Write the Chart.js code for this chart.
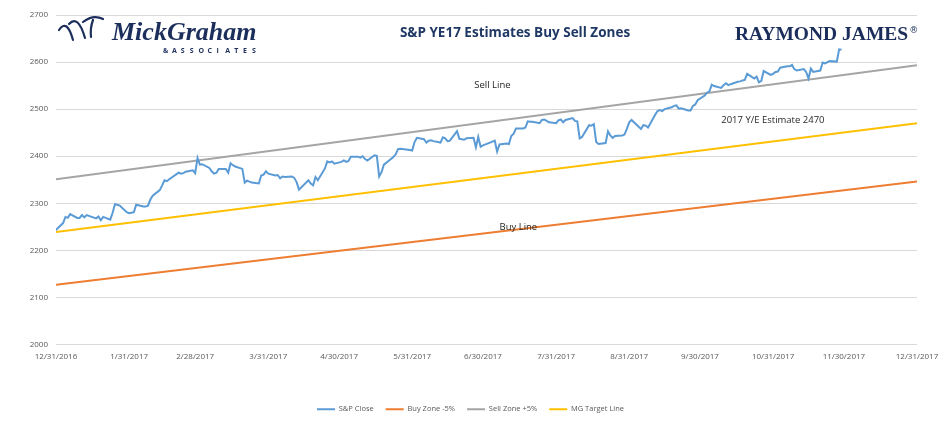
<!DOCTYPE html>
<html>
<head>
<meta charset="utf-8">
<script src="https://cdn.jsdelivr.net/npm/chart.js@4.4.0/dist/chart.umd.min.js"></script>
<style>
  html, body { margin: 0; padding: 0; background: #fff; }
</style>
</head>
<body>
<canvas id="chart" width="941" height="423"></canvas>
<script>
// x axis tick labels (month ends)
const tickLabels = ['12/31/2016', '1/31/2017', '2/28/2017', '3/31/2017', '4/30/2017', '5/31/2017',
  '6/30/2017', '7/31/2017', '8/31/2017', '9/30/2017', '10/31/2017', '11/30/2017', '12/31/2017'];

// zone lines: value at start and end of the year
const zoneDates = ['12/31/2016', '12/31/2017'];
const targetLine = [2239, 2470];
const sellZone = [2351, 2593.5];
const buyZone = [2127, 2346.5];

// S&P close
const spDates = [
  '12/30/2016', '1/3/2017', '1/4/2017', '1/5/2017', '1/6/2017', '1/9/2017', '1/10/2017', '1/11/2017', '1/12/2017', '1/13/2017',
  '1/17/2017', '1/18/2017', '1/19/2017', '1/20/2017', '1/23/2017', '1/24/2017', '1/25/2017', '1/26/2017', '1/27/2017', '1/30/2017',
  '1/31/2017', '2/1/2017', '2/2/2017', '2/3/2017', '2/6/2017', '2/7/2017', '2/8/2017', '2/9/2017', '2/10/2017', '2/13/2017',
  '2/14/2017', '2/15/2017', '2/16/2017', '2/17/2017', '2/21/2017', '2/22/2017', '2/23/2017', '2/24/2017', '2/27/2017', '2/28/2017',
  '3/1/2017', '3/2/2017', '3/3/2017', '3/6/2017', '3/7/2017', '3/8/2017', '3/9/2017', '3/10/2017', '3/13/2017', '3/14/2017',
  '3/15/2017', '3/16/2017', '3/17/2017', '3/20/2017', '3/21/2017', '3/22/2017', '3/23/2017', '3/24/2017', '3/27/2017', '3/28/2017',
  '3/29/2017', '3/30/2017', '3/31/2017', '4/3/2017', '4/4/2017', '4/5/2017', '4/6/2017', '4/7/2017', '4/10/2017', '4/11/2017',
  '4/12/2017', '4/13/2017', '4/17/2017', '4/18/2017', '4/19/2017', '4/20/2017', '4/21/2017', '4/24/2017', '4/25/2017', '4/26/2017',
  '4/27/2017', '4/28/2017', '5/1/2017', '5/2/2017', '5/3/2017', '5/4/2017', '5/5/2017', '5/8/2017', '5/9/2017', '5/10/2017',
  '5/11/2017', '5/12/2017', '5/15/2017', '5/16/2017', '5/17/2017', '5/18/2017', '5/19/2017', '5/22/2017', '5/23/2017', '5/24/2017',
  '5/25/2017', '5/26/2017', '5/30/2017', '5/31/2017', '6/1/2017', '6/2/2017', '6/5/2017', '6/6/2017', '6/7/2017', '6/8/2017',
  '6/9/2017', '6/12/2017', '6/13/2017', '6/14/2017', '6/15/2017', '6/16/2017', '6/19/2017', '6/20/2017', '6/21/2017', '6/22/2017',
  '6/23/2017', '6/26/2017', '6/27/2017', '6/28/2017', '6/29/2017', '6/30/2017', '7/3/2017', '7/5/2017', '7/6/2017', '7/7/2017',
  '7/10/2017', '7/11/2017', '7/12/2017', '7/13/2017', '7/14/2017', '7/17/2017', '7/18/2017', '7/19/2017', '7/20/2017', '7/21/2017',
  '7/24/2017', '7/25/2017', '7/26/2017', '7/27/2017', '7/28/2017', '7/31/2017', '8/1/2017', '8/2/2017', '8/3/2017', '8/4/2017',
  '8/7/2017', '8/8/2017', '8/9/2017', '8/10/2017', '8/11/2017', '8/14/2017', '8/15/2017', '8/16/2017', '8/17/2017', '8/18/2017',
  '8/21/2017', '8/22/2017', '8/23/2017', '8/24/2017', '8/25/2017', '8/28/2017', '8/29/2017', '8/30/2017', '8/31/2017', '9/1/2017',
  '9/5/2017', '9/6/2017', '9/7/2017', '9/8/2017', '9/11/2017', '9/12/2017', '9/13/2017', '9/14/2017', '9/15/2017', '9/18/2017',
  '9/19/2017', '9/20/2017', '9/21/2017', '9/22/2017', '9/25/2017', '9/26/2017', '9/27/2017', '9/28/2017', '9/29/2017', '10/2/2017',
  '10/3/2017', '10/4/2017', '10/5/2017', '10/6/2017', '10/9/2017', '10/10/2017', '10/11/2017', '10/12/2017', '10/13/2017', '10/16/2017',
  '10/17/2017', '10/18/2017', '10/19/2017', '10/20/2017', '10/23/2017', '10/24/2017', '10/25/2017', '10/26/2017', '10/27/2017', '10/30/2017',
  '10/31/2017', '11/1/2017', '11/2/2017', '11/3/2017', '11/6/2017', '11/7/2017', '11/8/2017', '11/9/2017', '11/10/2017', '11/13/2017',
  '11/14/2017', '11/15/2017', '11/16/2017', '11/17/2017', '11/20/2017', '11/21/2017', '11/22/2017', '11/24/2017', '11/27/2017', '11/28/2017',
  '11/29/2017'
];
const spClose = [
  2239, 2258, 2271, 2269, 2277, 2269, 2269, 2275, 2270, 2275,
  2268, 2272, 2264, 2271, 2265, 2280, 2298, 2297, 2295, 2281,
  2279, 2280, 2281, 2297, 2293, 2293, 2295, 2308, 2316, 2328,
  2338, 2349, 2347, 2351, 2365, 2363, 2364, 2367, 2370, 2364,
  2396, 2382, 2383, 2375, 2368, 2363, 2365, 2373, 2373, 2365,
  2385, 2381, 2378, 2373, 2344, 2348, 2346, 2344, 2342, 2359,
  2361, 2368, 2363, 2359, 2360, 2353, 2357, 2356, 2357, 2354,
  2345, 2329, 2349, 2342, 2338, 2356, 2349, 2374, 2389, 2387,
  2389, 2384, 2388, 2391, 2388, 2390, 2399, 2399, 2397, 2400,
  2394, 2391, 2402, 2401, 2357, 2366, 2382, 2394, 2398, 2404,
  2415, 2416, 2413, 2412, 2430, 2439, 2436, 2429, 2433, 2434,
  2432, 2429, 2440, 2438, 2432, 2433, 2453, 2437, 2436, 2435,
  2438, 2439, 2419, 2441, 2420, 2423, 2429, 2433, 2410, 2425,
  2427, 2426, 2443, 2448, 2459, 2459, 2461, 2474, 2473, 2473,
  2470, 2477, 2478, 2475, 2472, 2470, 2476, 2478, 2472, 2477,
  2481, 2475, 2474, 2438, 2441, 2466, 2465, 2468, 2430, 2426,
  2428, 2453, 2444, 2439, 2443, 2444, 2446, 2458, 2472, 2477,
  2458, 2466, 2465, 2461, 2488, 2496, 2498, 2496, 2500, 2504,
  2507, 2508, 2501, 2502, 2497, 2497, 2507, 2510, 2519, 2529,
  2535, 2538, 2552, 2549, 2545, 2551, 2555, 2551, 2553, 2558,
  2559, 2561, 2562, 2575, 2565, 2569, 2557, 2560, 2581, 2573,
  2575, 2579, 2580, 2588, 2591, 2591, 2594, 2585, 2582, 2585,
  2579, 2565, 2586, 2579, 2582, 2599, 2597, 2602, 2601, 2627,
  2626
];

const base = Date.UTC(2016, 11, 31);
function dayOf(s) {
  const [m, d, y] = s.split('/').map(Number);
  return (Date.UTC(y, m - 1, d) - base) / 86400000;
}
const tickDays = tickLabels.map(dayOf);
const zoneDays = zoneDates.map(dayOf);
const pts = (days, vals) => vals.map((v, i) => ({ x: days[i], y: v }));

const navy = '#1f3864';
const font = "'Open Sans', sans-serif";

const overlay = {
  id: 'overlay',
  afterDatasetsDraw(chart) {
    const ctx = chart.ctx;
    const x = chart.scales.x, y = chart.scales.y;
    ctx.save();

    // title
    ctx.fillStyle = navy;
    ctx.font = "bold 13.5px " + font;
    ctx.textAlign = 'center';
    ctx.textBaseline = 'alphabetic';
    ctx.fillText('S&P YE17 Estimates Buy Sell Zones', 515, 37);

    // line annotations
    ctx.fillStyle = '#262626';
    ctx.font = "9.5px " + font;
    ctx.textBaseline = 'middle';
    ctx.textAlign = 'center';
    ctx.fillText('Sell Line', x.getPixelForValue(185), y.getPixelForValue(2550));
    ctx.fillText('Buy Line', x.getPixelForValue(196), y.getPixelForValue(2250));
    ctx.textAlign = 'left';
    ctx.fillText('2017 Y/E Estimate 2470', x.getPixelForValue(282), y.getPixelForValue(2477));

    // Raymond James logo
    ctx.fillStyle = '#1b2d5a';
    ctx.textAlign = 'left';
    ctx.textBaseline = 'alphabetic';
    ctx.font = "bold 19.5px 'Liberation Serif', serif";
    ctx.fillText('RAYMOND JAMES', 735, 39.5);
    const rjw = ctx.measureText('RAYMOND JAMES').width;
    ctx.font = "9px 'DejaVu Sans', sans-serif";
    ctx.fillText('®', 736 + rjw, 33);

    // Mick Graham logo
    ctx.strokeStyle = '#1c2e5c';
    ctx.lineWidth = 2.2;
    ctx.lineCap = 'round';
    ctx.beginPath();
    ctx.moveTo(59, 30); ctx.quadraticCurveTo(67, 18, 73, 40);
    ctx.moveTo(69, 24); ctx.quadraticCurveTo(78, 14, 85, 38);
    ctx.moveTo(83, 22); ctx.quadraticCurveTo(93, 14, 103, 19);
    ctx.moveTo(93, 20); ctx.quadraticCurveTo(90, 28, 91, 37);
    ctx.stroke();
    ctx.fillStyle = '#1c2e5c';
    ctx.font = "bold italic 26px 'Liberation Serif', serif";
    ctx.fillText('MickGraham', 112, 40);
    ctx.font = "bold 7px " + font;
    const assoc = '&ASSOCIATES';
    for (let i = 0; i < assoc.length; i++) {
      ctx.fillText(assoc[i], 163 + i * 8.9, 53);
    }
    ctx.restore();
  }
};

new Chart(document.getElementById('chart'), {
  type: 'line',
  data: {
    datasets: [{
      label: 'S&P Close',
      data: pts(spDates.map(dayOf), spClose),
      borderColor: '#5b9bd5',
      backgroundColor: '#5b9bd5',
      borderWidth: 2
    }, {
      label: 'Buy Zone -5%',
      data: pts(zoneDays, buyZone),
      borderColor: '#ed7d31',
      backgroundColor: '#ed7d31',
      borderWidth: 2
    }, {
      label: 'Sell Zone +5%',
      data: pts(zoneDays, sellZone),
      borderColor: '#a5a5a5',
      backgroundColor: '#a5a5a5',
      borderWidth: 2
    }, {
      label: 'MG Target Line',
      data: pts(zoneDays, targetLine),
      borderColor: '#ffc000',
      backgroundColor: '#ffc000',
      borderWidth: 2
    }]
  },
  options: {
    responsive: false,
    animation: false,
    layout: { padding: { top: 15, right: 24, left: 24, bottom: 0 } },
    elements: { point: { radius: 0 }, line: { tension: 0 } },
    plugins: {
      legend: {
        position: 'bottom',
        labels: {
          usePointStyle: true,
          pointStyle: 'line',
          pointStyleWidth: 18,
          boxHeight: 8,
          padding: 12,
          color: '#595959',
          font: { family: font, size: 7.5 }
        }
      },
      tooltip: { enabled: false }
    },
    scales: {
      x: {
        type: 'linear',
        min: 0,
        max: 365,
        afterBuildTicks(s) { s.ticks = tickDays.map(v => ({ value: v })); },
        afterFit(s) { s.height = 49; s.paddingLeft = 0; s.paddingRight = 0; },
        grid: { display: false, drawTicks: false },
        border: { display: false },
        ticks: {
          autoSkip: false,
          maxRotation: 0,
          padding: 7,
          color: '#595959',
          font: { family: font, size: 8 },
          callback: (v) => tickLabels[tickDays.indexOf(v)]
        }
      },
      y: {
        min: 2000,
        max: 2700,
        afterFit(s) { s.width = 32; },
        grid: { color: '#d9d9d9', drawTicks: false },
        border: { display: false },
        ticks: {
          stepSize: 100,
          padding: 8,
          color: '#595959',
          font: { family: font, size: 8 },
          callback: (v) => String(v)
        }
      }
    }
  },
  plugins: [overlay]
});
</script>
</body>
</html>
